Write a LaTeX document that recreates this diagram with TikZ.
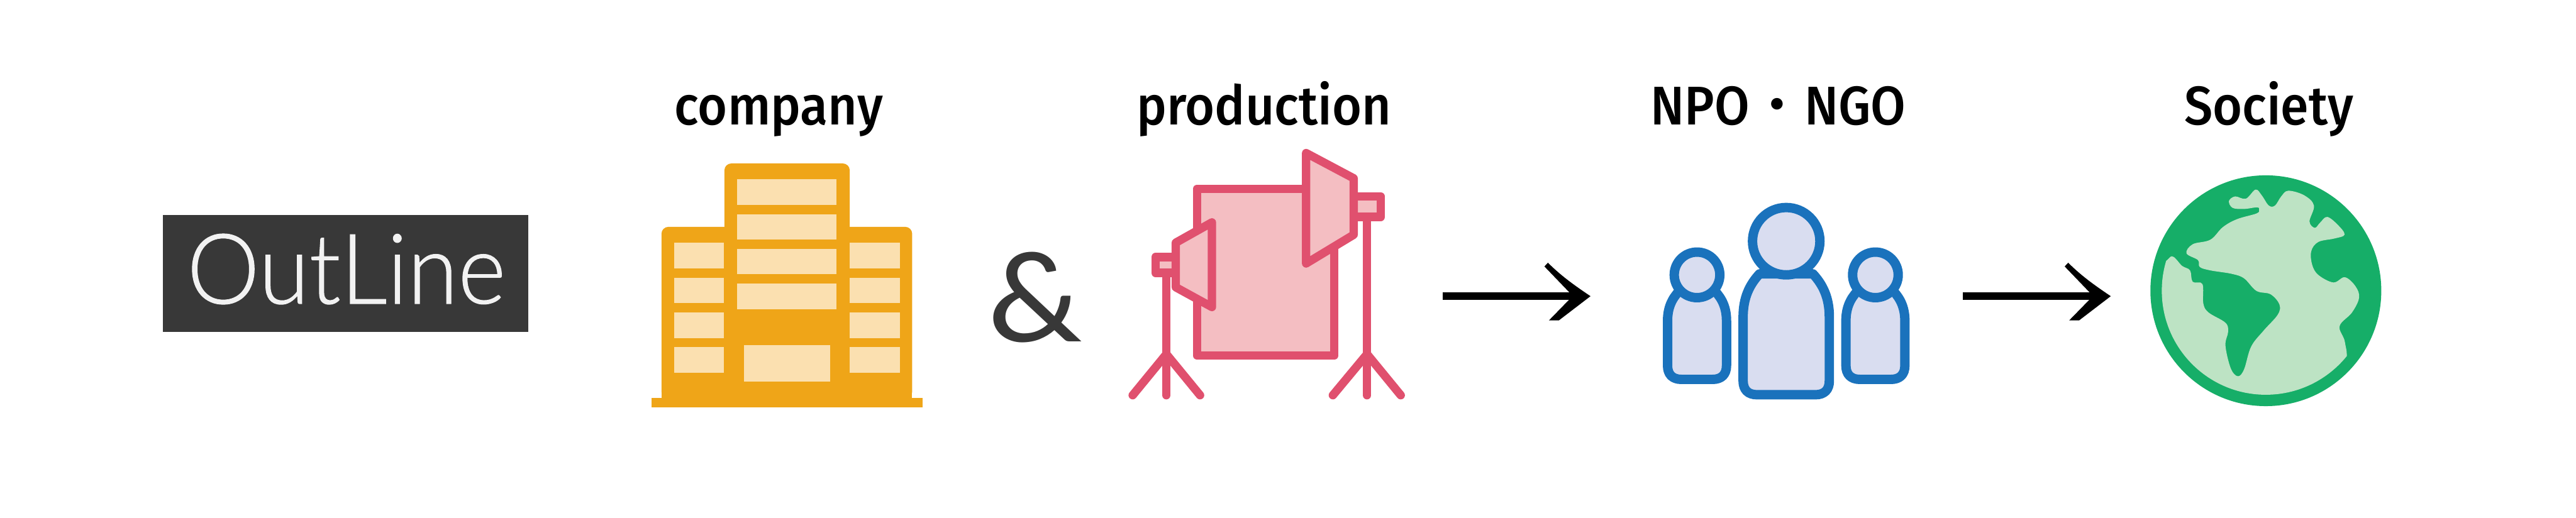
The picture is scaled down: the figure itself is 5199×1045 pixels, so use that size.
\documentclass[tikz,border=0pt]{standalone}
\usepackage{fontspec}
\newfontfamily\labelfont{Fira Sans}[UprightFont={* Medium},FakeStretch=0.93]
\newfontfamily\titlefont{Lato}[UprightFont={* Light},FakeStretch=0.94,FakeBold=0.7]
\newfontfamily\ampfont{Lato}[FakeStretch=1.08]
\newfontfamily\cjkfont{Noto Sans CJK JP}[Weight=Medium]
\definecolor{darkbox}{HTML}{383838}
\definecolor{boxtext}{HTML}{F2F2F2}
\definecolor{amber}{HTML}{EFA518}
\definecolor{amberlight}{HTML}{FBE0B0}
\definecolor{rosy}{HTML}{E0506E}
\definecolor{rosylight}{HTML}{F4BEC2}
\definecolor{bluedark}{HTML}{1A72BC}
\definecolor{bluelight}{HTML}{D9DDF0}
\definecolor{greendark}{HTML}{16AE68}
\definecolor{greenlight}{HTML}{BDE3C4}
\tikzset{
  lbl/.style={font=\labelfont\fontsize{31.3}{36}\selectfont,text=black,inner sep=0pt,anchor=base},
  win/.style={fill=amberlight},
  rosyline/.style={draw=rosy,line width=4.8pt,line join=round,line cap=round},
  rosybox/.style={rosyline,fill=rosylight},
  person/.style={draw=bluedark,fill=bluelight,line width=5.4pt,line join=round},
  flow/.style={draw=black,line width=4.27pt,shorten >=0.3cm},
}
\newcommand{\flowhead}[1]{\fill[black,shift={(#1)}] (-93,-60) -- (-86,-67.5) .. controls (-65,-47) and (-45,-30) .. (0,0) -- (-64,49) -- (-84,49) -- (-43,7) -- (-43,-8) -- cycle;}
\newcommand{\personbody}[4]{% cx, half width, shoulder y, bottom y
  \draw[person] (#1-#2,#3) .. controls (#1-#2,#3-0.45*#2) and (#1-0.85*#2,#3-0.75*#2) .. (#1-0.62*#2,#3-1.0*#2)
    -- (#1+0.62*#2,#3-1.0*#2) .. controls (#1+0.85*#2,#3-0.75*#2) and (#1+#2,#3-0.45*#2) .. (#1+#2,#3)
    -- (#1+#2,#4-28) .. controls (#1+#2,#4-10) and (#1+#2-10,#4) .. (#1+#2-28,#4)
    -- (#1-#2+28,#4) .. controls (#1-#2+10,#4) and (#1-#2,#4-10) .. (#1-#2,#4-28) -- cycle;}
\begin{document}
\begin{tikzpicture}[x=0.01cm,y=-0.01cm]
\useasboundingbox (0,0) rectangle (5199,1045);
\fill[white] (0,0) rectangle (5199,1045);
% title
\node[fill=darkbox,minimum width=7.37cm,minimum height=2.36cm,inner sep=0pt,anchor=center] (outline) at (697,552) {};
\node[font=\titlefont\fontsize{56}{60}\selectfont,text=boxtext,inner sep=0pt,anchor=base] (outlinetext) at (699,613) {OutLine};
% labels
\node[lbl] (company) at (1572,252) {company};
\node[lbl] (production) at (2551,252) {production};
\node[lbl] (npongo) at (3589,252) {NPO{\cjkfont ・}NGO};
\node[lbl] (society) at (4579,252) {Society};
\node[font=\ampfont\fontsize{71}{80}\selectfont,text=darkbox,inner sep=0pt,anchor=base] (amp) at (2090,690) {\&};
% building
\fill[amber,rounded corners=4pt] (1335,805) -- (1335,458) -- (1841,458) -- (1841,805) -- cycle;
\fill[amber,rounded corners=4pt] (1462,600) -- (1462,330) -- (1715,330) -- (1715,600) -- cycle;
\fill[amber] (1315,804) rectangle (1862,822);
\fill[amber] (1335,700) rectangle (1841,810);
\foreach \ya/\yb in {362/414,433/484,503/554,573/625}{\fill[win] (1488,\ya) rectangle (1688,\yb);}
\foreach \ya/\yb in {490/542,561/612,631/683,701/753}{
  \fill[win] (1361,\ya) rectangle (1461,\yb);
  \fill[win] (1715,\ya) rectangle (1816,\yb);}
\fill[win] (1501,697) rectangle (1676,771);
% studio
\draw[rosybox] (2416,381) rectangle (2693,718);
\draw[rosyline] (2759,440) -- (2759,798);
\draw[rosyline] (2690,798) -- (2759,715) -- (2827,798);
\draw[rosyline] (2354,551) -- (2354,798);
\draw[rosyline] (2286,798) -- (2354,715) -- (2422,798);
\draw[rosybox] (2732,397) rectangle (2787,438);
\draw[rosybox] (2636,309) -- (2732,360) -- (2732,474) -- (2636,532) -- cycle;
\draw[rosybox] (2332,519) rectangle (2373,551);
\draw[rosybox] (2446,449) -- (2373,490) -- (2373,580) -- (2446,620) -- cycle;
% people
\personbody{3425}{59.5}{648}{766}
\draw[person] (3425,555) circle (46);
\personbody{3785}{59.5}{648}{766}
\draw[person] (3785,555) circle (46);
\personbody{3605}{87}{640}{797}
\draw[person] (3605,487) circle (68);
% globe
\fill[greendark] (4573,587) circle (233);
\begin{scope}
\clip (4573,587) circle (210);
\begin{scope}[shift={(42.8cm,-1.3cm)},x=0.003571cm,y=-0.004592cm]
\fill[greenlight] plot[smooth cycle,tension=0.6] coordinates {
(605,600) (640,580) (700,590) (755,550) (790,575) (830,620) (865,620) (900,580) (940,555) (1030,575) (1085,620) (1060,690) (1090,718) (1120,695) (1160,670) (1220,705) (1258,748) (1200,765) (1110,780) (1070,820) (1075,880) (1110,925) (1195,958) (1260,935) (1320,975) (1340,1025) (1300,1090) (1230,1150) (1260,1220) (1262,1320) (1150,1500) (830,1560) (500,1500) (200,1250) (150,950) (255,860) (290,845) (340,885) (385,905) (400,955) (455,965) (460,1050) (490,1090) (585,1135) (600,1175) (585,1235) (615,1335) (655,1370) (690,1340) (730,1240) (800,1170) (880,1100) (890,1055) (840,1010) (760,995) (690,940) (620,920) (500,905) (440,890) (430,860) (365,830) (400,790) (500,770) (570,715) (650,680) (760,655) (775,640) (765,628) (690,635) (625,630)};
\end{scope}
\end{scope}
% connectors
\coordinate (f1s) at (2912,598);
\coordinate (f1e) at (3210,598);
\coordinate (f2s) at (3962,598);
\coordinate (f2e) at (4260,598);
\draw[flow] (f1s) -- (f1e);
\flowhead{f1e}
\draw[flow] (f2s) -- (f2e);
\flowhead{f2e}
\end{tikzpicture}
\end{document}
